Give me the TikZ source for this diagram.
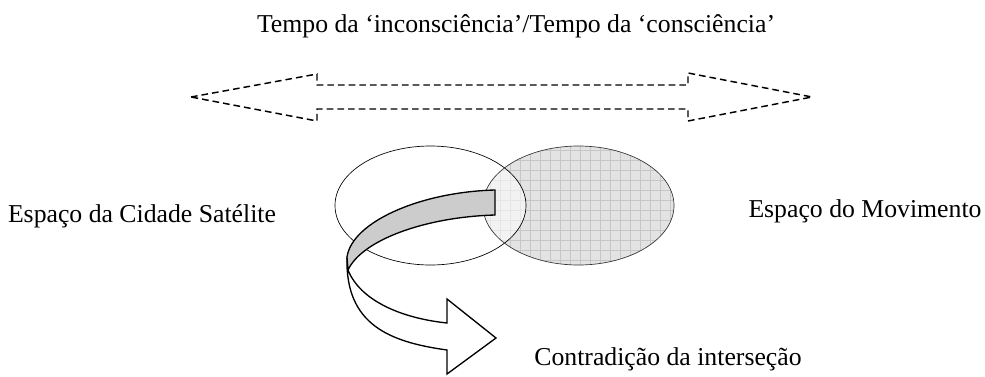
\documentclass[tikz,border=0pt]{standalone}
\usepackage{fontspec}
\setmainfont{Liberation Serif}
\begin{document}
\begin{tikzpicture}[x=0.75pt,y=-0.75pt,
  lbl/.style={inner sep=0pt,anchor=base,font=\fontsize{19.3}{21}\selectfont},
  dasharrow/.style={draw,line width=1.1pt,dash pattern=on 5pt off 3pt},
  ell/.style={draw,line width=0.5pt},
  arr/.style={draw,line width=1pt,line join=miter}]
\useasboundingbox (0,0) rectangle (985,376);
% dashed double arrow
\draw[dasharrow] (191,97) -- (317,74) -- (317,85) -- (688,85) -- (688,73) -- (812,97)
  -- (688,121) -- (688,109) -- (317,109) -- (317,121) -- cycle;
% right ellipse filled with grid
\begin{scope}
  \clip (578.5,205.5) ellipse [x radius=95.5,y radius=59.5];
  \fill[gray!22] (470,140) rectangle (690,270);
  \draw[gray!45,line width=0.3pt] (470,140) grid[step=7.5pt] (690,270);
\end{scope}
\begin{scope}
  \clip (430.5,205.5) ellipse [x radius=95.5,y radius=59.5];
  \fill[white,opacity=0.55] (578.5,205.5) ellipse [x radius=95.5,y radius=59.5];
\end{scope}
\draw[ell] (430.5,205.5) ellipse [x radius=95.5,y radius=59.5];
\draw[ell,draw=black!80] (578.5,205.5) ellipse [x radius=95.5,y radius=59.5];
% curved arrow
\draw[arr,fill=white] (347,257) .. controls (345,325) and (390,342) .. (447,350)
  -- (447,374) -- (496,338) -- (447,299) -- (447,323)
  .. controls (400,318) and (360,300) .. (348,270) -- cycle;
\draw[arr,fill=black!20] (495,190) .. controls (420,192) and (352,222) .. (347,257)
  -- (348,270) .. controls (362,240) and (425,217) .. (495,215) -- cycle;
% labels
\node[lbl] (t) at (516,32) {Tempo da ‘inconsciência’/Tempo da ‘consciência’};
\node[lbl] (l) at (142,222) {Espaço da Cidade Satélite};
\node[lbl] (r) at (865,217) {Espaço do Movimento};
\node[lbl] (b) at (668,365) {Contradição da interseção};
\end{tikzpicture}
\end{document}
